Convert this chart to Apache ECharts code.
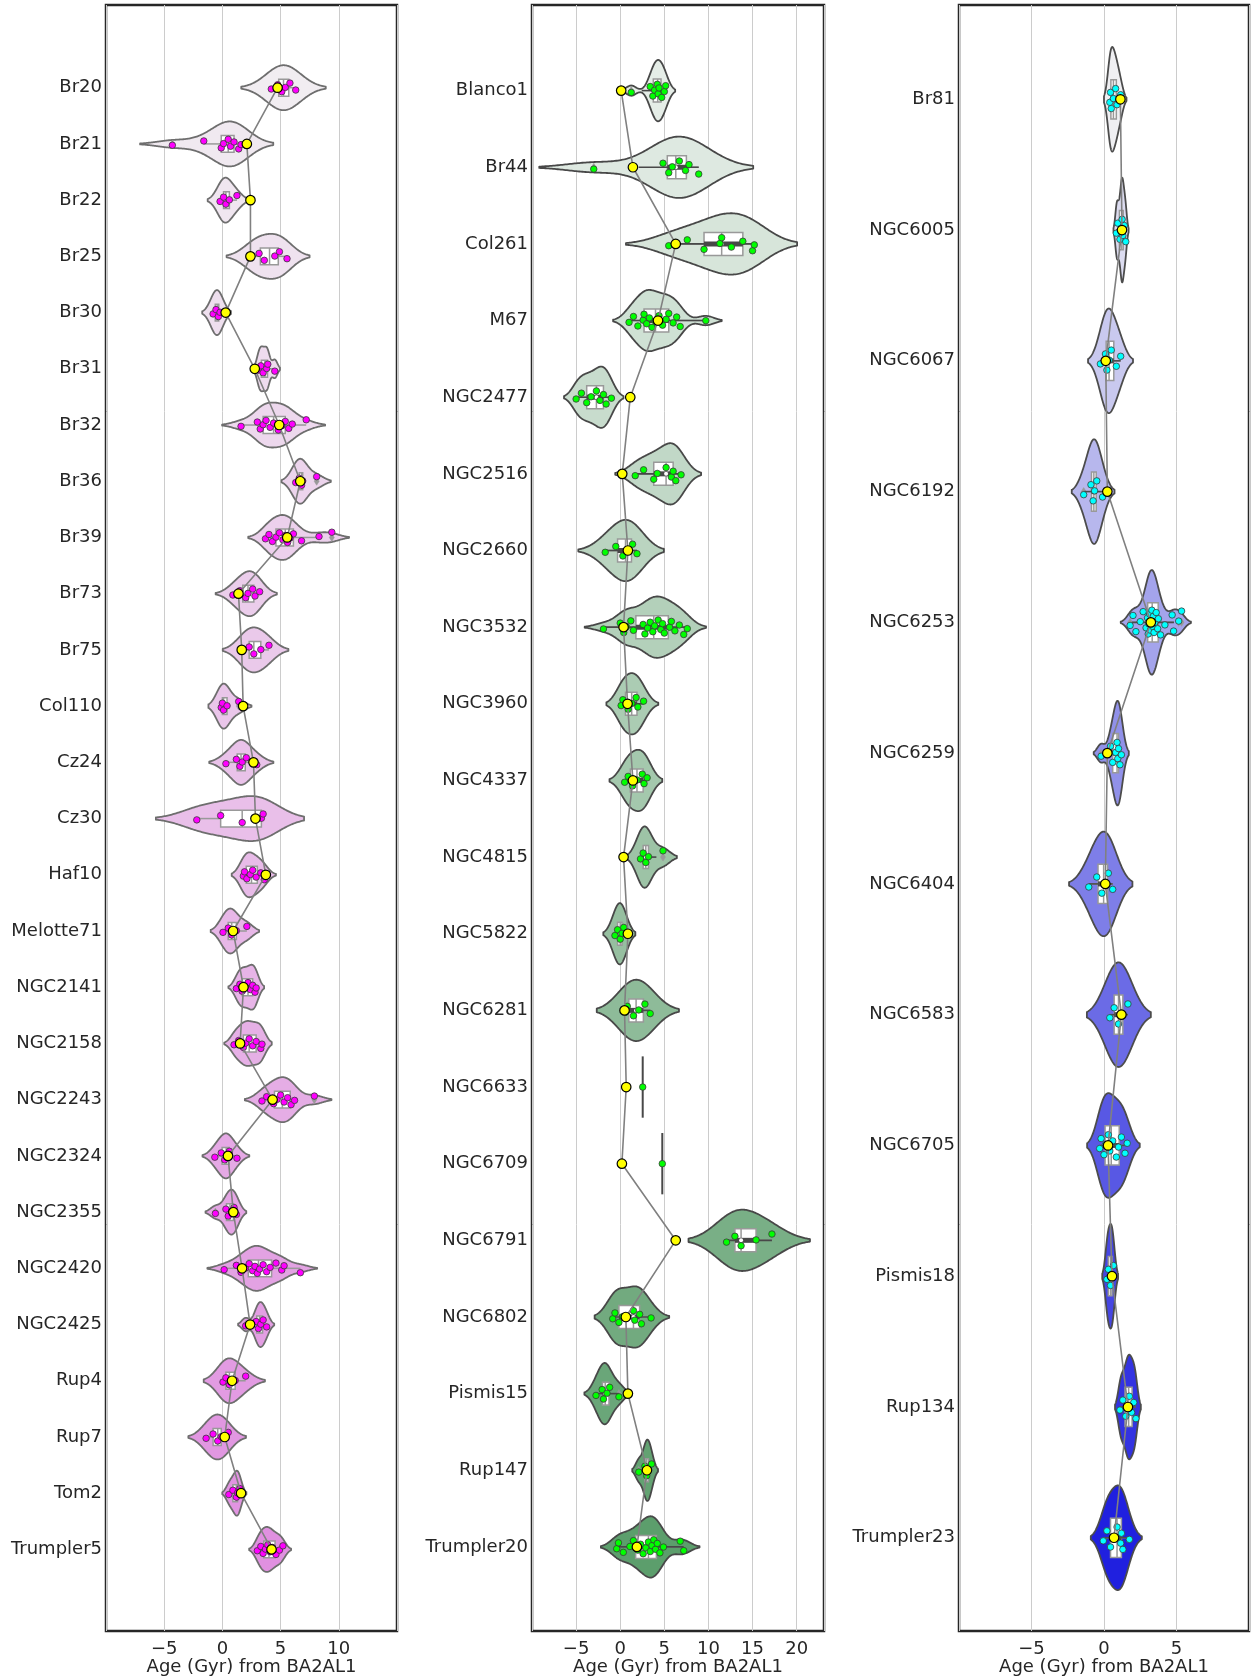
<!DOCTYPE html>
<html><head><meta charset="utf-8">
<script src="https://cdn.jsdelivr.net/npm/echarts@6/dist/echarts.min.js"></script>
<style>html,body{margin:0;padding:0;background:#fff}#c{width:1255px;height:1678px}</style>
</head><body><div id="c"></div>
<script>
// ---------------- Panel 1 ----------------
const names1 = ['Br20','Br21','Br22','Br25','Br30','Br31','Br32','Br36','Br39','Br73','Br75','Col110','Cz24','Cz30','Haf10','Melotte71','NGC2141','NGC2158','NGC2243','NGC2324','NGC2355','NGC2420','NGC2425','Rup4','Rup7','Tom2','Trumpler5'];
const points1 = [
  [4.2, 4.75, 5.1, 5.4, 5.8, 6.3],
  [-4.3, -1.6, -0.1, 0.1, 0.5, 0.7, 1.0, 1.4, 1.6],
  [-0.2, 0.1, 0.3, 0.6, 1.25],
  [2.3, 3.15, 3.6, 4.5, 4.9, 5.55],
  [-0.8, -0.55, -0.35, -0.2],
  [3.1, 3.3, 3.5, 3.8, 3.9, 4.5],
  [1.6, 3.0, 3.25, 3.5, 3.75, 4.1, 4.4, 4.8, 5.1, 5.4, 5.7, 6.0, 7.2],
  [6.3, 6.6, 6.8, 6.9, 8.1],
  [3.7, 4.0, 4.3, 4.6, 4.9, 5.2, 5.4, 5.6, 5.8, 6.1, 6.8, 8.3, 9.4],
  [0.9, 1.5, 2.0, 2.2, 2.6, 2.8, 3.2],
  [1.7, 2.3, 2.7, 3.3, 4.0],
  [-0.1, 0.0, 0.1, 0.4, 1.4],
  [0.3, 1.2, 1.5, 1.7, 2.05, 2.95],
  [-2.2, -0.15, 1.7, 3.35, 3.5],
  [1.8, 1.9, 2.1, 2.4, 2.6, 2.9, 3.3, 3.6],
  [0.05, 0.5, 0.8, 1.2, 2.1],
  [1.2, 1.5, 1.7, 1.9, 2.2, 2.4, 2.6, 2.8, 2.9],
  [1.0, 1.4, 1.8, 2.0, 2.3, 2.6, 2.9, 3.3, 3.4],
  [3.4, 3.8, 4.4, 4.7, 5.0, 5.3, 5.6, 5.9, 6.2, 7.9],
  [-0.65, -0.1, 0.2, 0.45, 0.6, 1.25],
  [-0.6, 0.3, 0.5, 0.8, 1.0, 1.2],
  [0.15, 1.2, 1.6, 2.0, 2.3, 2.6, 2.8, 3.0, 3.2, 3.5, 3.8, 4.1, 4.6, 5.1, 5.3, 6.7],
  [2.0, 2.9, 3.1, 3.3, 3.5, 3.8],
  [0.05, 0.3, 0.6, 1.1, 2.0],
  [-1.4, -0.8, -0.4, -0.1, 0.5],
  [0.55, 0.9, 1.2, 1.3, 1.5],
  [3.0, 3.3, 3.5, 3.7, 3.9, 4.1, 4.3, 4.6, 4.9, 5.2]
];
const means1 = [4.74, 2.1, 2.41, 2.41, 0.28, 2.78, 4.88, 6.69, 5.57, 1.38, 1.66, 1.78, 2.67, 2.84, 3.73, 0.92, 1.81, 1.52, 4.31, 0.48, 0.94, 1.69, 2.38, 0.83, 0.2, 1.6, 4.22];
const violinLo1 = [1.64, -6.9, -1.38, 0.34, -1.55, 2.93, -0.03, 5.08, 2.24, -0.6, 0.05, -1.2, -1.15, -5.69, 0.86, -1.0, 0.52, 0.14, 1.9, -1.72, -1.38, -1.33, 1.38, -1.61, -2.88, 0.0, 2.35];
const violinHi1 = [8.9, 4.54, 2.2, 7.47, 0.92, 5.22, 8.82, 9.31, 10.9, 4.66, 5.69, 2.5, 4.36, 7.04, 4.66, 3.16, 3.59, 4.22, 9.34, 2.3, 2.12, 8.1, 4.48, 3.65, 2.07, 2.07, 5.95];
const xTicks1 = [-5, 0, 5, 10];

// ---------------- Panel 2 ----------------
const names2 = ['Blanco1','Br44','Col261','M67','NGC2477','NGC2516','NGC2660','NGC3532','NGC3960','NGC4337','NGC4815','NGC5822','NGC6281','NGC6633','NGC6709','NGC6791','NGC6802','Pismis15','Rup147','Trumpler20'];
const points2 = [
  [1.25, 3.4, 3.7, 3.9, 4.2, 4.3, 4.4, 4.7, 5.0, 5.15],
  [-3.0, 4.85, 5.5, 5.9, 6.7, 7.4, 7.8, 8.9],
  [5.5, 7.6, 9.5, 11.3, 11.5, 12.6, 13.9, 15.0, 15.2],
  [1.0, 1.5, 2.0, 2.6, 2.7, 3.0, 3.3, 3.6, 4.0, 4.4, 4.8, 5.2, 5.5, 6.0, 6.4, 6.8, 9.7],
  [-5.0, -4.4, -3.8, -3.3, -2.7, -2.3, -1.9, -1.6, -1.0],
  [1.7, 2.65, 3.8, 4.2, 5.2, 5.8, 6.0, 6.3, 6.9],
  [-1.7, -0.5, 0.3, 0.9, 1.4, 1.9],
  [-1.9, 0.0, 0.4, 0.7, 1.2, 1.5, 2.6, 2.8, 3.1, 3.4, 3.7, 3.9, 4.3, 4.6, 4.8, 5.0, 5.6, 5.8, 6.2, 6.7, 7.2, 7.6],
  [0.1, 0.3, 0.9, 1.3, 1.8, 2.0, 2.65],
  [0.5, 0.9, 1.4, 1.9, 2.5, 2.7, 3.05],
  [2.3, 2.6, 2.9, 3.2, 4.85],
  [-0.6, -0.3, 0.0, 0.2, 0.4],
  [0.6, 0.8, 1.5, 2.1, 2.8, 3.4],
  [2.55],
  [4.77],
  [12.05, 13.0, 13.7, 15.4, 17.2],
  [-0.85, -0.6, -0.15, 0.3, 1.5, 1.65, 2.2, 2.4, 3.5],
  [-2.75, -2.05, -1.9, -1.5, -1.2, -0.15],
  [2.1, 2.8, 3.0, 3.2, 3.55],
  [-0.4, -0.2, 0.35, 1.1, 1.5, 2.0, 2.3, 2.6, 2.9, 3.2, 3.4, 3.6, 3.8, 4.0, 4.2, 4.5, 4.9, 6.8, 7.2]
];
const means2 = [0.11, 1.44, 6.29, 4.28, 1.14, 0.23, 0.87, 0.38, 0.83, 1.44, 0.38, 0.87, 0.49, 0.68, 0.19, 6.29, 0.64, 0.87, 3.03, 1.89];
const violinLo2 = [0.68, -9.17, 0.6, -0.83, -6.82, -0.53, -4.8, -4.05, -1.52, -1.21, 0.98, -1.89, -2.5, 2.55, 4.77, 7.73, -2.92, -4.24, 1.4, -2.2];
const violinHi2 = [6.74, 15.08, 20.0, 11.48, -0.08, 9.2, 4.9, 9.7, 4.36, 4.77, 6.67, 1.74, 6.82, 2.55, 4.77, 21.5, 5.53, 0.98, 4.32, 8.98];
const xTicks2 = [-5, 0, 5, 10, 15, 20];

// ---------------- Panel 3 ----------------
const names3 = ['Br81','NGC6005','NGC6067','NGC6192','NGC6253','NGC6259','NGC6404','NGC6583','NGC6705','Pismis18','Rup134','Trumpler23'];
const points3 = [
  [0.4, 0.45, 0.5, 0.65, 0.8, 0.9, 1.15],
  [0.85, 0.95, 1.1, 1.2, 1.25, 1.3, 1.4, 1.5],
  [-0.25, 0.1, 0.2, 0.35, 0.5, 0.85, 1.15],
  [-1.4, -0.9, -0.75, -0.65, -0.5, -0.1],
  [1.8, 2.0, 2.2, 2.5, 2.7, 2.9, 3.0, 3.05, 3.1, 3.15, 3.2, 3.25, 3.3, 3.35, 3.4, 3.45, 3.5, 3.6, 3.7, 3.75, 3.9, 4.2, 4.7, 4.8, 5.15, 5.35],
  [-0.2, 0.45, 0.6, 0.8, 0.9, 0.95, 1.0, 1.1, 1.2],
  [-1.05, -0.5, -0.15, 0.1, 0.3, 0.6],
  [0.4, 0.7, 1.0, 1.3, 1.65],
  [-0.3, -0.2, 0.0, 0.1, 0.3, 0.4, 0.6, 0.85, 1.0, 1.2, 1.45, 1.6],
  [0.2, 0.3, 0.45, 0.55, 0.65],
  [1.1, 1.3, 1.5, 1.65, 1.75, 1.9, 2.05, 2.2],
  [-0.05, 0.2, 0.45, 0.6, 0.9, 1.15, 1.2, 1.3, 1.75]
];
const means3 = [1.13, 1.24, 0.12, 0.23, 3.23, 0.23, 0.09, 1.2, 0.28, 0.55, 1.65, 0.69];
const violinLo3 = [-0.05, 0.62, -1.1, -2.26, 1.2, -0.65, -2.37, -1.18, -1.1, -0.12, 0.8, -0.92];
const violinHi3 = [1.5, 1.66, 2.0, 0.69, 6.04, 1.77, 2.0, 3.23, 2.53, 0.97, 2.58, 2.6];
const xTicks3 = [-5, 0, 5];

const axisTitle = 'Age (Gyr) from BA2AL1';

// ---------------- layout / style ----------------
const panels = [
  {names: names1, points: points1, means: means1, lo: violinLo1, hi: violinHi1, ticks: xTicks1,
   grid: {left: 106, top: 5, width: 291, height: 1626}, xMin: -10, xMax: 15, yMin: -1.471, yMax: 27.451,
   c0: [241, 237, 241], c1: [224, 144, 224], edge: '#6e6e6e', dot: '#ff00ff', inner: false},
  {names: names2, points: points2, means: means2, lo: violinLo2, hi: violinHi2, ticks: xTicks2,
   grid: {left: 532, top: 5, width: 292, height: 1626}, xMin: -10, xMax: 23.1, yMin: -1.117, yMax: 20.097,
   c0: [229, 237, 231], c1: [92, 158, 108], edge: '#484848', dot: '#00ff00', inner: true},
  {names: names3, points: points3, means: means3, lo: violinLo3, hi: violinHi3, ticks: xTicks3,
   grid: {left: 959, top: 5, width: 290, height: 1626}, xMin: -10, xMax: 10, yMin: -0.721, yMax: 11.713,
   c0: [239, 239, 242], c1: [32, 32, 223], edge: '#4c4c4c', dot: '#00ffff', inner: true}
];

function pct(s, p) { const pos = (s.length - 1) * p; const a = Math.floor(pos), b = Math.ceil(pos); return s[a] + (s[b] - s[a]) * (pos - a); }
function stats(pts) {
  const s = [...pts].sort((a, b) => a - b);
  const q1 = pct(s, .25), med = pct(s, .5), q3 = pct(s, .75), iqr = q3 - q1;
  const lf = q1 - 1.5 * iqr, uf = q3 + 1.5 * iqr;
  const inside = s.filter(v => v >= lf && v <= uf);
  return {q1, med, q3, wlo: Math.min(...inside), whi: Math.max(...inside),
          fliers: s.filter(v => v < lf || v > uf), h1: Math.max(lf, s[0]), h2: Math.min(uf, s[s.length - 1])};
}
function violinProfile(pts, lo, hi) {
  const mn = Math.min(...pts), mx = Math.max(...pts);
  let bw = ((hi - lo) - (mx - mn)) / 4; if (!(bw > 0.03)) bw = 0.03;
  const a = mn - 2 * bw, b = mx + 2 * bw, G = 140, out = [];
  let md = 0;
  for (let k = 0; k < G; k++) {
    const x = a + (b - a) * k / (G - 1); let d = 0;
    for (const p of pts) { const z = (x - p) / bw; d += Math.exp(-0.5 * z * z); }
    out.push([x, d]); if (d > md) md = d;
  }
  return out.map(([x, d]) => [x, d / md]);
}
function mix(c0, c1, t) { return 'rgb(' + c0.map((v, j) => Math.round(v + (c1[j] - v) * t)).join(',') + ')'; }
function jit(k) { return (((k + 1) * 0.6180339887) % 1 - 0.5) * 0.2; }
function ln(x1, y1, x2, y2, c, w) { return {type: 'line', shape: {x1, y1, x2, y2}, style: {stroke: c, lineWidth: w}}; }
function fmtTick(P) { return v => P.ticks.includes(v) ? (v < 0 ? '\u2212' + (-v) : String(v)) : ''; }

const grids = [], xAxes = [], yAxes = [], series = [];
panels.forEach((P, g) => {
  const n = P.names.length;
  const colors = P.names.map((_, i) => mix(P.c0, P.c1, n > 1 ? i / (n - 1) : 0));
  const profiles = P.points.map((pts, i) => pts.length > 1 ? violinProfile(pts, P.lo[i], P.hi[i]) : null);
  const st = P.points.map(pts => pts.length > 1 ? stats(pts) : null);
  grids.push(Object.assign({show: true, borderColor: '#262626', borderWidth: 2.5, containLabel: false, outerBoundsMode: 'none'}, P.grid));
  xAxes.push({type: 'value', gridIndex: g, min: P.xMin, max: P.xMax, interval: 5,
    splitLine: {show: true, lineStyle: {color: '#cccccc', width: 1}}, axisLine: {show: false}, axisTick: {show: false},
    axisLabel: {fontSize: 18, color: '#262626', margin: 9, fontFamily: 'DejaVu Sans', formatter: fmtTick(P), showMinLabel: true, showMaxLabel: true},
    name: axisTitle, nameLocation: 'middle', nameGap: 27, nameMoveOverlap: false,
    nameTextStyle: {fontSize: 18, color: '#262626', fontFamily: 'DejaVu Sans'}});
  yAxes.push({type: 'value', gridIndex: g, inverse: true, min: P.yMin, max: P.yMax,
    splitLine: {show: false}, axisLine: {show: false}, axisTick: {show: false},
    axisLabel: {customValues: P.names.map((_, i) => i), formatter: v => P.names[Math.round(v)] || '',
      fontSize: 18, color: '#262626', margin: 4, fontFamily: 'DejaVu Sans'}});
  const idx = P.names.map((_, i) => [0, i]);
  // violins
  series.push({type: 'custom', xAxisIndex: g, yAxisIndex: g, z: 2, silent: true, animation: false, data: idx,
    renderItem: (params, api) => {
      const i = params.dataIndex; const pts = P.points[i];
      if (pts.length === 1) {
        const a = api.coord([pts[0], i - 0.4]), b = api.coord([pts[0], i + 0.4]);
        return ln(a[0], a[1], b[0], b[1], P.edge, 2);
      }
      const prof = profiles[i];
      const up = prof.map(([x, d]) => api.coord([x, i - 0.4 * d]));
      const dn = prof.slice().reverse().map(([x, d]) => api.coord([x, i + 0.4 * d]));
      return {type: 'polygon', shape: {points: up.concat(dn)},
        style: {fill: colors[i], stroke: P.edge, lineWidth: 1.8, lineJoin: 'round'}};
    }});
  // boxes
  series.push({type: 'custom', xAxisIndex: g, yAxisIndex: g, z: 3, silent: true, animation: false, data: idx,
    renderItem: (params, api) => {
      const i = params.dataIndex; const s = st[i];
      if (!s) return {type: 'group', children: []};
      const X = v => api.coord([v, i])[0];
      const yc = api.coord([0, i])[1];
      const hb = Math.abs(api.coord([0, i + 0.15])[1] - yc);
      const ch = [];
      ch.push(ln(X(s.wlo), yc, X(s.q1), yc, '#999999', 1.5));
      ch.push(ln(X(s.q3), yc, X(s.whi), yc, '#999999', 1.5));
      ch.push({type: 'rect', shape: {x: X(s.q1), y: yc - hb, width: X(s.q3) - X(s.q1), height: 2 * hb},
        style: {fill: '#ffffff', stroke: '#999999', lineWidth: 1.5}});
      ch.push(ln(X(s.med), yc - hb, X(s.med), yc + hb, '#999999', 1.5));
      s.fliers.forEach(f => {
        const fx = X(f);
        ch.push({type: 'polygon', shape: {points: [[fx, yc - 4], [fx + 2.5, yc], [fx, yc + 4], [fx - 2.5, yc]]},
          style: {fill: '#999999', stroke: '#999999', lineWidth: 0.5}});
      });
      if (P.inner) {
        ch.push(ln(X(s.h1), yc, X(s.h2), yc, P.edge, 1.6));
        ch.push(ln(X(s.q1), yc, X(s.q3), yc, P.edge, 5));
        ch.push({type: 'circle', shape: {cx: X(s.med), cy: yc, r: 2}, style: {fill: '#ffffff'}});
      }
      return {type: 'group', children: ch};
    }});
  // strip points
  const strip = [];
  P.points.forEach((pts, i) => pts.forEach((v, k) => strip.push([v, i + (pts.length > 1 ? jit(k) : 0)])));
  series.push({type: 'scatter', xAxisIndex: g, yAxisIndex: g, z: 4, silent: true, animation: false, data: strip,
    symbol: 'circle', symbolSize: 6.5, itemStyle: {color: P.dot, borderColor: '#3a3a3a', borderWidth: 0.8, opacity: 1}});
  // means
  series.push({type: 'line', xAxisIndex: g, yAxisIndex: g, z: 5, silent: true, animation: false,
    data: P.means.map((m, i) => [m, i]), symbol: 'circle', symbolSize: 9.5, showSymbol: true,
    itemStyle: {color: '#ffff00', borderColor: '#000000', borderWidth: 1.2},
    lineStyle: {color: '#808080', width: 1.6}});
});

const chart = echarts.init(document.getElementById('c'), null, {renderer: 'canvas'});
chart.setOption({
  animation: false,
  backgroundColor: '#ffffff',
  textStyle: {fontFamily: 'DejaVu Sans'},
  grid: grids, xAxis: xAxes, yAxis: yAxes, series: series
});
</script></body></html>
